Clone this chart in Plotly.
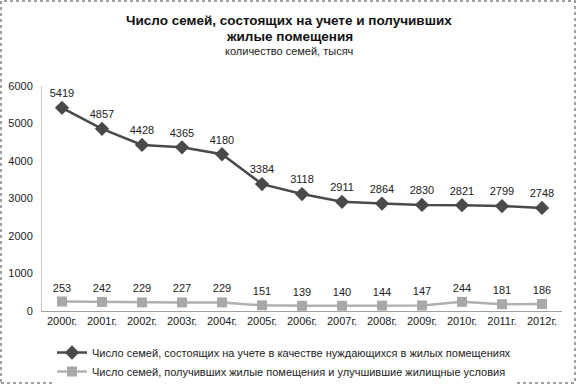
import plotly.graph_objects as go

years = ["2000г.", "2001г.", "2002г.", "2003г.", "2004г.", "2005г.", "2006г.",
         "2007г.", "2008г.", "2009г.", "2010г.", "2011г.", "2012г."]
on_register = [5419, 4857, 4428, 4365, 4180, 3384, 3118, 2911, 2864, 2830, 2821, 2799, 2748]
received = [253, 242, 229, 227, 229, 151, 139, 140, 144, 147, 244, 181, 186]
name1 = "Число семей, состоящих на учете в качестве нуждающихся в жилых помещениях"
name2 = "Число семей, получивших жилые помещения и улучшившие жилищные условия"
title1 = "Число семей, состоящих на учете и получивших"
title2 = "жилые помещения"
subtitle = "количество семей, тысяч"

W, H = 577, 385
L, R, T, B = 42, 15, 86, 74
pw, ph = W - L - R, H - T - B


def py(p):
    """pixel row -> paper y"""
    return (H - B - p) / ph


def px(p):
    return (p - L) / pw


fig = go.Figure()
fig.add_trace(go.Scatter(
    x=years, y=on_register, name=name1, mode="lines+markers+text",
    line=dict(color="#4a4a4a", width=2.5),
    marker=dict(symbol="diamond", size=11, color="#4a4a4a"),
    text=[str(v) for v in on_register], textposition="top center",
    textfont=dict(size=11, color="#222222"),
))
fig.add_trace(go.Scatter(
    x=years, y=received, name=name2, mode="lines+markers+text",
    line=dict(color="#b0b0b0", width=2.5),
    marker=dict(symbol="square", size=10, color="#a8a8a8"),
    text=[str(v) for v in received], textposition="top center",
    textfont=dict(size=11, color="#222222"),
))

annotations = [
    dict(text="<b>" + title1 + "</b>", x=px(289), y=py(20), font=dict(size=13.5, color="#111111")),
    dict(text="<b>" + title2 + "</b>", x=px(289), y=py(37), font=dict(size=13.5, color="#111111")),
    dict(text=subtitle, x=px(289), y=py(51), font=dict(size=11, color="#222222")),
]
for a in annotations:
    a.update(xref="paper", yref="paper", xanchor="center", yanchor="middle", showarrow=False)

fig.update_layout(
    width=W, height=H,
    margin=dict(l=L, r=R, t=T, b=B, autoexpand=False),
    paper_bgcolor="white", plot_bgcolor="white",
    font=dict(family="Liberation Sans, Arial, sans-serif", size=11, color="#222222"),
    annotations=annotations,
    xaxis=dict(
        type="category", range=[-0.5, 12.5], showgrid=False,
        showline=True, linecolor="#a0a0a0", linewidth=1,
        ticks="", tickfont=dict(size=11), fixedrange=True,
    ),
    yaxis=dict(
        range=[0, 6000], dtick=1000, showgrid=False, zeroline=False,
        showline=True, linecolor="#c8c8c8", linewidth=1,
        ticks="", tickfont=dict(size=11), ticklabelstandoff=6,
    ),
    legend=dict(
        orientation="v", x=px(52), xanchor="left", y=py(338), yanchor="top",
        font=dict(size=11), tracegroupgap=0, itemwidth=30,
    ),
    showlegend=True,
    shapes=[dict(
        type="rect", xref="paper", yref="paper",
        x0=px(1), x1=px(W - 2),
        y0=py(H - 2), y1=py(1),
        line=dict(color="#808080", width=1.5, dash="dot"),
    )],
)

fig.write_html(
    "out.html",
    config={"displayModeBar": False},
    post_script="document.body.style.margin='0';document.body.style.overflow='hidden';",
)
